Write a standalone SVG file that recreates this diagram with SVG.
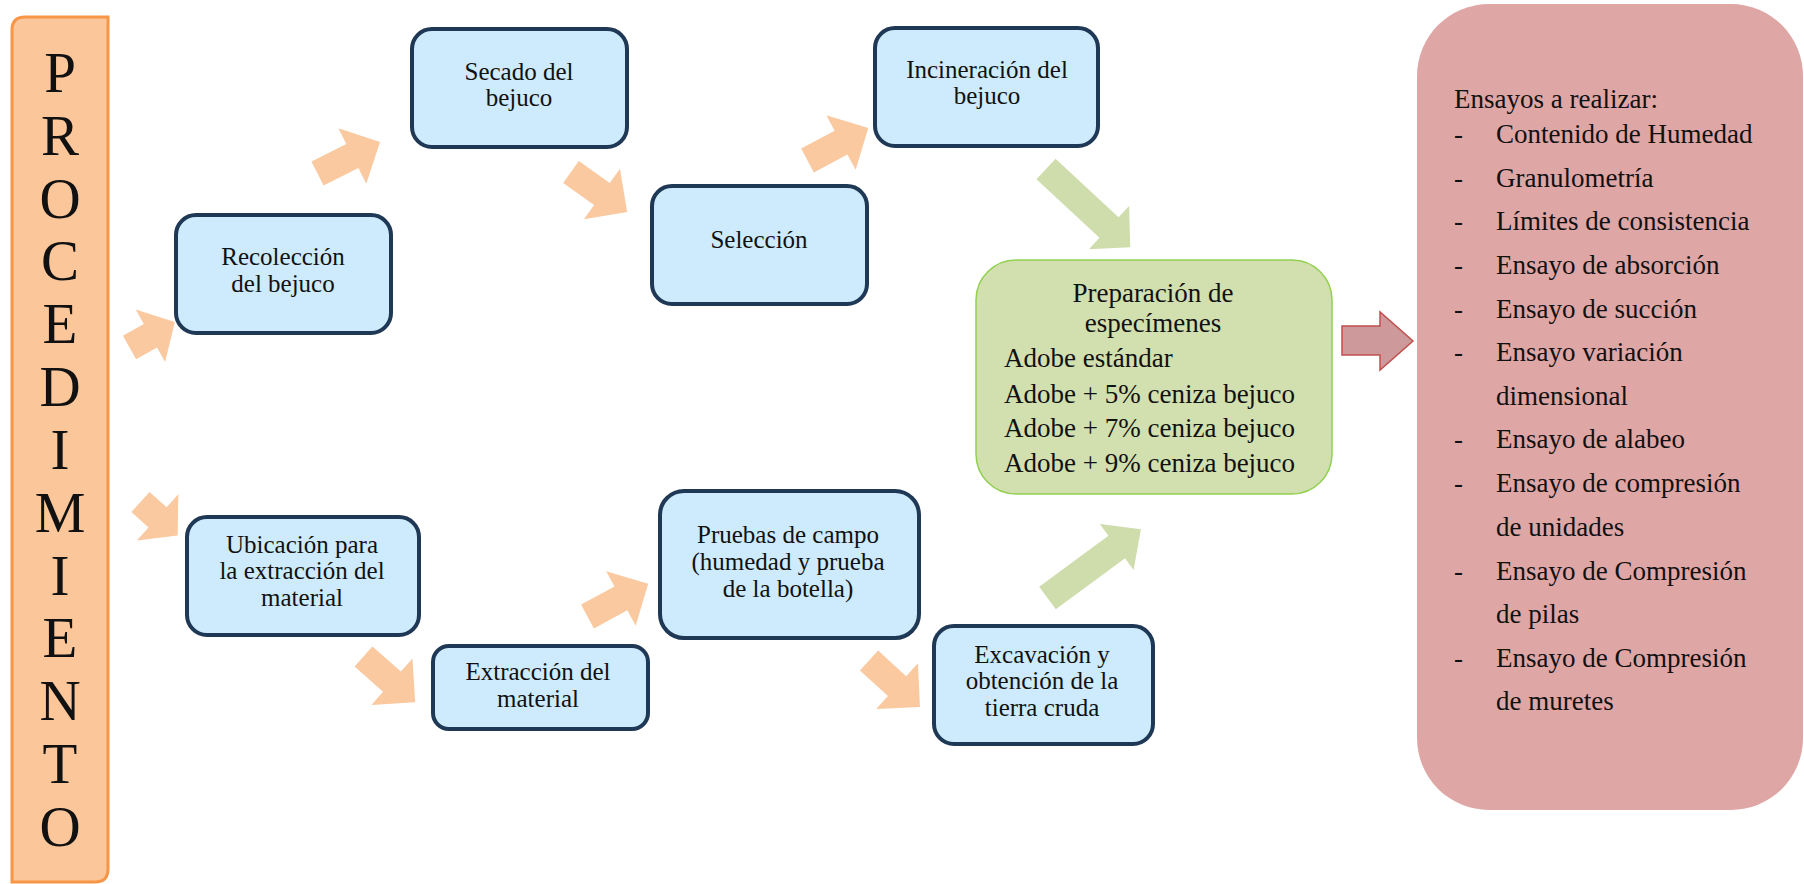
<svg xmlns="http://www.w3.org/2000/svg" width="1804" height="884" viewBox="0 0 1804 884">
<style>
.box{fill:#CDEBFC;stroke:#1F3855;stroke-width:4}
.t{font-family:"Liberation Serif","Times New Roman",serif;font-size:25px;fill:#111;text-anchor:middle}
.g{font-family:"Liberation Serif","Times New Roman",serif;font-size:27px;fill:#111}
.big{font-family:"Liberation Serif","Times New Roman",serif;font-size:57px;fill:#111;text-anchor:middle}
.pa{fill:#FAC9A0}
.ga{fill:#CFDDAC}
</style>
<rect width="1804" height="884" fill="#FFFFFF"/>

<g id="procedimiento">
<path d="M12,30 Q12,17 25,17 L108,17 L108,869 Q108,882 95,882 L12,882 Z" fill="#FBC79A" stroke="#F79646" stroke-width="3"/>
<text class="big" x="60" y="92">P</text>
<text class="big" x="60" y="155">R</text>
<text class="big" x="60" y="218">O</text>
<text class="big" x="60" y="280">C</text>
<text class="big" x="60" y="343">E</text>
<text class="big" x="60" y="406">D</text>
<text class="big" x="60" y="469">I</text>
<text class="big" x="60" y="532">M</text>
<text class="big" x="60" y="595">I</text>
<text class="big" x="60" y="657">E</text>
<text class="big" x="60" y="720">N</text>
<text class="big" x="60" y="783">T</text>
<text class="big" x="60" y="846">O</text>
</g>

<g id="connectors">
<polygon class="pa" transform="translate(129.5,347.5) rotate(-29.3)" points="0,-13.5 24,-13.5 24,-30 52,0 24,30 24,13.5 0,13.5"/>
<polygon class="pa" transform="translate(317.5,173.5) rotate(-26.7)" points="0,-13.5 39,-13.5 39,-31 70,0 39,31 39,13.5 0,13.5"/>
<polygon class="pa" transform="translate(571,172) rotate(35.5)" points="0,-13.5 38,-13.5 38,-31 69,0 38,31 38,13.5 0,13.5"/>
<polygon class="pa" transform="translate(807.5,160.5) rotate(-28.2)" points="0,-13.5 38,-13.5 38,-31 69,0 38,31 38,13.5 0,13.5"/>
<polygon class="pa" transform="translate(140.5,502) rotate(42)" points="0,-13.5 23,-13.5 23,-31 50,0 23,31 23,13.5 0,13.5"/>
<polygon class="pa" transform="translate(363.5,656.5) rotate(41.5)" points="0,-13.5 38,-13.5 38,-31 69,0 38,31 38,13.5 0,13.5"/>
<polygon class="pa" transform="translate(587.5,616.5) rotate(-28.4)" points="0,-13.5 38,-13.5 38,-31 69,0 38,31 38,13.5 0,13.5"/>
<polygon class="pa" transform="translate(869,660.5) rotate(42.4)" points="0,-13.5 38,-13.5 38,-31 69,0 38,31 38,13.5 0,13.5"/>
<polygon class="ga" transform="translate(1046,169) rotate(42.9)" points="0,-14 86,-14 86,-29.5 115,0 86,29.5 86,14 0,14"/>
<polygon class="ga" transform="translate(1047.5,598) rotate(-36.4)" points="0,-14 86,-14 86,-28.5 116,0 86,28.5 86,14 0,14"/>
<polygon points="1342,326 1380,326 1380,312 1413,341 1380,370 1380,355 1342,355" fill="#CD999A" stroke="#C0504D" stroke-width="1.5"/>
</g>

<g id="recoleccion">
<rect class="box" x="176" y="215" width="215" height="118" rx="20"/>
<text class="t" x="283" y="265">Recolección</text>
<text class="t" x="283" y="292">del bejuco</text>
</g>

<g id="secado">
<rect class="box" x="412" y="29" width="215" height="118" rx="20"/>
<text class="t" x="519" y="80">Secado del</text>
<text class="t" x="519" y="106">bejuco</text>
</g>

<g id="seleccion">
<rect class="box" x="652" y="186" width="215" height="118" rx="20"/>
<text class="t" x="759" y="248">Selección</text>
</g>

<g id="incineracion">
<rect class="box" x="875" y="28" width="223" height="118" rx="20"/>
<text class="t" x="987" y="78">Incineración del</text>
<text class="t" x="987" y="104">bejuco</text>
</g>

<g id="ubicacion">
<rect class="box" x="187" y="517" width="232" height="118" rx="20"/>
<text class="t" x="302" y="553">Ubicación para</text>
<text class="t" x="302" y="579">la extracción del</text>
<text class="t" x="302" y="606">material</text>
</g>

<g id="extraccion">
<rect class="box" x="433" y="646" width="215" height="83" rx="16"/>
<text class="t" x="538" y="680">Extracción del</text>
<text class="t" x="538" y="707">material</text>
</g>

<g id="pruebas">
<rect class="box" x="660" y="491" width="259" height="147" rx="24"/>
<text class="t" x="788" y="543">Pruebas de campo</text>
<text class="t" x="788" y="570">(humedad y prueba</text>
<text class="t" x="788" y="597">de la botella)</text>
</g>

<g id="excavacion">
<rect class="box" x="934" y="626" width="219" height="118" rx="20"/>
<text class="t" x="1042" y="663">Excavación y</text>
<text class="t" x="1042" y="689">obtención de la</text>
<text class="t" x="1042" y="716">tierra cruda</text>
</g>

<g id="preparacion">
<rect x="976" y="260" width="356" height="234" rx="40" fill="#D2DFAE" stroke="#92D050" stroke-width="1.5"/>
<text class="g" x="1153" y="302" text-anchor="middle">Preparación de</text>
<text class="g" x="1153" y="332" text-anchor="middle">especímenes</text>
<text class="g" x="1004" y="367">Adobe estándar</text>
<text class="g" x="1004" y="403">Adobe + 5% ceniza bejuco</text>
<text class="g" x="1004" y="437">Adobe + 7% ceniza bejuco</text>
<text class="g" x="1004" y="472">Adobe + 9% ceniza bejuco</text>
</g>

<g id="ensayos">
<rect x="1417" y="4" width="386" height="806" rx="72" fill="#DFA6A6"/>
<text class="g" x="1454" y="108">Ensayos a realizar:</text>
<g class="g">
<text x="1454" y="143">-</text><text x="1496" y="143">Contenido de Humedad</text>
<text x="1454" y="187">-</text><text x="1496" y="187">Granulometría</text>
<text x="1454" y="230">-</text><text x="1496" y="230">Límites de consistencia</text>
<text x="1454" y="274">-</text><text x="1496" y="274">Ensayo de absorción</text>
<text x="1454" y="318">-</text><text x="1496" y="318">Ensayo de succión</text>
<text x="1454" y="361">-</text><text x="1496" y="361">Ensayo variación</text>
<text x="1496" y="405">dimensional</text>
<text x="1454" y="448">-</text><text x="1496" y="448">Ensayo de alabeo</text>
<text x="1454" y="492">-</text><text x="1496" y="492">Ensayo de compresión</text>
<text x="1496" y="536">de unidades</text>
<text x="1454" y="580">-</text><text x="1496" y="580">Ensayo de Compresión</text>
<text x="1496" y="623">de pilas</text>
<text x="1454" y="667">-</text><text x="1496" y="667">Ensayo de Compresión</text>
<text x="1496" y="710">de muretes</text>
</g>
</g>
</svg>
